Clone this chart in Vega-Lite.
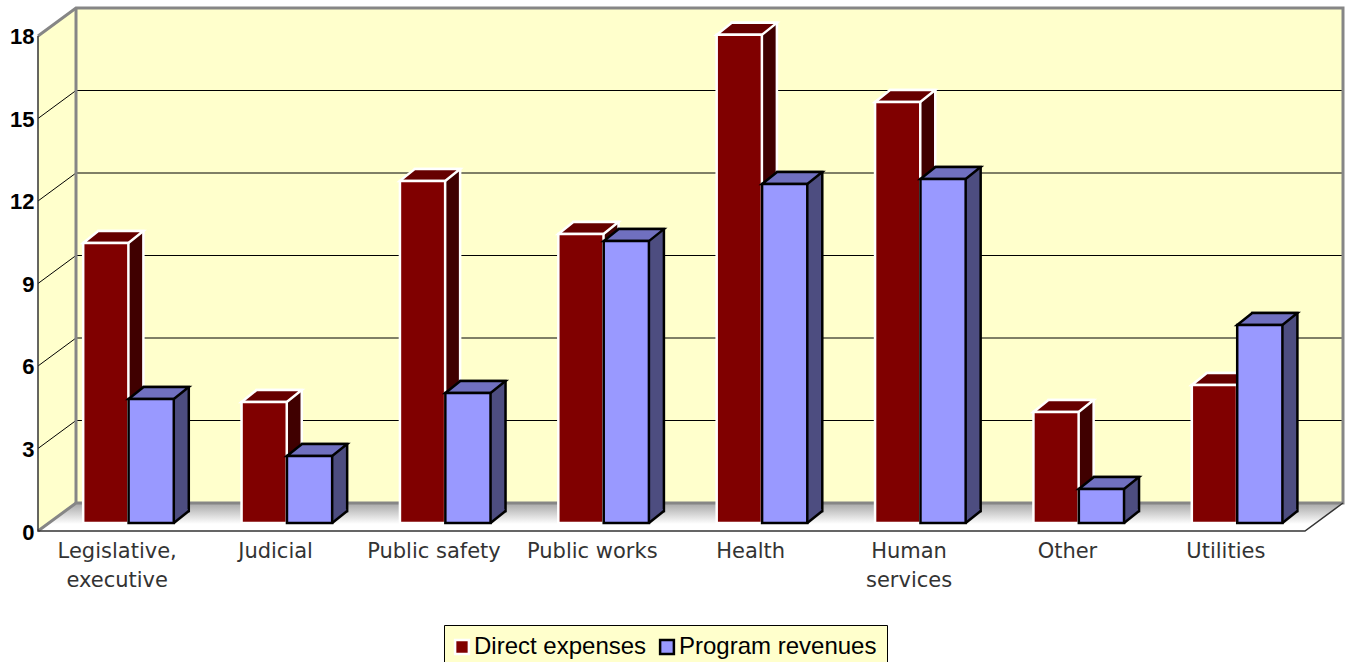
{
"$schema":"https://vega.github.io/schema/vega-lite/v6.json",
"width":1305,"height":523,
"autosize":{"type":"none"},
"padding":{"left":38,"top":8,"right":10,"bottom":131},
"background":"white",
"datasets":{
"bars":[
{"category":"Legislative, executive","series":"Direct expenses","value":10.18},
{"category":"Judicial","series":"Direct expenses","value":4.40},
{"category":"Public safety","series":"Direct expenses","value":12.44},
{"category":"Public works","series":"Direct expenses","value":10.51},
{"category":"Health","series":"Direct expenses","value":17.75},
{"category":"Human services","series":"Direct expenses","value":15.31},
{"category":"Other","series":"Direct expenses","value":4.04},
{"category":"Utilities","series":"Direct expenses","value":5.02},
{"category":"Legislative, executive","series":"Program revenues","value":4.51},
{"category":"Judicial","series":"Program revenues","value":2.44},
{"category":"Public safety","series":"Program revenues","value":4.73},
{"category":"Public works","series":"Program revenues","value":10.25},
{"category":"Health","series":"Program revenues","value":12.33},
{"category":"Human services","series":"Program revenues","value":12.51},
{"category":"Other","series":"Program revenues","value":1.24},
{"category":"Utilities","series":"Program revenues","value":7.2}
]},
"resolve":{"scale":{"x":"independent"},"axis":{"x":"independent"}},
"config":{"view":{"stroke":null}},
"layer":[
{"data":{"values":[{"x":0,"y":0,"y2":18},{"x":0.24,"y":1.018,"y2":19.018},{"x":8.24,"y":1.018,"y2":19.018}]},
 "mark":{"type":"area","fill":"#FFFFCC"},
 "encoding":{
  "x":{"field":"x","type":"quantitative","axis":null,"scale":{"domain":[0,8.24],"range":[0,1305],"nice":false,"zero":false}},
  "y":{"field":"y","type":"quantitative","stack":null,"scale":{"domain":[0,19.018],"nice":false},
    "axis":{"values":[0,3,6,9,12,15,18],"title":null,"grid":false,"domain":false,"ticks":false,"labelFont":"Liberation Sans","labelFontWeight":"bold","labelFontSize":22,"labelColor":"black","labelPadding":4,"labelOffset":1}},
  "y2":{"field":"y2"}}},
{"data":{"values":[{"x":0,"x2":8,"y":0},{"x":0.24,"x2":8.24,"y":1.018}]},
 "mark":{"type":"area","orient":"horizontal","fill":{"gradient":"linear","x1":0,"y1":0,"x2":0,"y2":1,"stops":[{"offset":0,"color":"#A6A6A6"},{"offset":0.75,"color":"#FFFFFF"},{"offset":1,"color":"#FFFFFF"}]}},
 "encoding":{
  "x":{"field":"x","type":"quantitative","axis":null,"scale":{"domain":[0,8.24],"range":[0,1305],"nice":false,"zero":false}},
  "x2":{"field":"x2"},
  "y":{"field":"y","type":"quantitative","stack":null}}},
{"data":{"values":[
 {"t":3,"i":0,"x":0,"y":3},{"t":3,"i":1,"x":0.24,"y":4.018},{"t":3,"i":2,"x":8.24,"y":4.018},
 {"t":6,"i":0,"x":0,"y":6},{"t":6,"i":1,"x":0.24,"y":7.018},{"t":6,"i":2,"x":8.24,"y":7.018},
 {"t":9,"i":0,"x":0,"y":9},{"t":9,"i":1,"x":0.24,"y":10.018},{"t":9,"i":2,"x":8.24,"y":10.018},
 {"t":12,"i":0,"x":0,"y":12},{"t":12,"i":1,"x":0.24,"y":13.018},{"t":12,"i":2,"x":8.24,"y":13.018},
 {"t":15,"i":0,"x":0,"y":15},{"t":15,"i":1,"x":0.24,"y":16.018},{"t":15,"i":2,"x":8.24,"y":16.018}]},
 "mark":{"type":"line","stroke":"#000000","strokeWidth":1},
 "encoding":{
  "x":{"field":"x","type":"quantitative","axis":null,"scale":{"domain":[0,8.24],"range":[0,1305],"nice":false,"zero":false}},
  "y":{"field":"y","type":"quantitative","stack":null},
  "detail":{"field":"t"},"order":{"field":"i"}}},
{"data":{"values":[
 {"p":1,"i":0,"x":0,"y":18},{"p":1,"i":1,"x":0.24,"y":19.018},{"p":1,"i":2,"x":8.24,"y":19.018},{"p":1,"i":3,"x":8.24,"y":1.018},{"p":1,"i":4,"x":0.24,"y":1.018},{"p":1,"i":5,"x":0,"y":0},
 {"p":2,"i":0,"x":0.24,"y":19.018},{"p":2,"i":1,"x":0.24,"y":1.018}]},
 "mark":{"type":"line","stroke":"#868686","strokeWidth":3},
 "encoding":{
  "x":{"field":"x","type":"quantitative","axis":null,"scale":{"domain":[0,8.24],"range":[0,1305],"nice":false,"zero":false}},
  "y":{"field":"y","type":"quantitative","stack":null},
  "detail":{"field":"p"},"order":{"field":"i"}}},
{"data":{"values":[{"i":0,"x":0,"y":18},{"i":1,"x":0,"y":0},{"i":2,"x":8,"y":0},{"i":3,"x":8.24,"y":1.018}]},
 "mark":{"type":"line","stroke":"#333333","strokeWidth":1.5},
 "encoding":{
  "x":{"field":"x","type":"quantitative","axis":null,"scale":{"domain":[0,8.24],"range":[0,1305],"nice":false,"zero":false}},
  "y":{"field":"y","type":"quantitative","stack":null},
  "order":{"field":"i"}}},

{"data":{"name":"bars"},"transform":[{"filter":"datum.series=='Direct expenses'"}],
 "encoding":{"x":{"field":"category","type":"nominal","sort":null,"scale":{"type":"band","range":[0,1267],"paddingInner":0,"paddingOuter":0},
     "axis":{"title":null,"domain":false,"ticks":false,"labelAngle":0,"labelFont":"DejaVu Sans","labelFontSize":21,"labelColor":"#333333","labelPadding":9,"labelLineHeight":29,"labelOverlap":false,
       "labelExpr":"datum.value=='Legislative, executive'?['Legislative,','executive']:datum.value=='Human services'?['Human','services']:datum.value"}}},
 "layer":[
 {"mark":{"type":"bar","width":45.2,"fill":"#400000","stroke":"#FFFFFF","strokeWidth":2.5,"xOffset":3.6,"yOffset":-20,"y2Offset":-20},
  "encoding":{
   "y":{"field":"value","type":"quantitative","stack":null},"y2":{"datum":0}}},
 {"mark":{"type":"point","filled":true,"opacity":1,"size":4,"fill":"#400000","strokeWidth":0,"yOffset":-8,"xOffset":-11.4,"shape":"M20.6,0L22.6,0L36.6,-11L36.6,-14L20.6,-14Z"},
  "encoding":{
   "y":{"datum":0,"type":"quantitative"}}},
 {"mark":{"type":"point","filled":false,"opacity":1,"size":4,"stroke":"#FFFFFF","strokeWidth":2.5,"yOffset":-8,"xOffset":-11.4,"shape":"M22.6,0L37.6,-12"},
  "encoding":{
   "y":{"datum":0,"type":"quantitative"}}},
 {"mark":{"type":"point","filled":true,"opacity":1,"size":4,"fill":"#660000","stroke":"#FFFFFF","strokeWidth":2.5,"yOffset":-8,"xOffset":-11.4,"shape":"M-22.6,0L-7.6,-12L37.6,-12L22.6,0Z"},
  "encoding":{
   "y":{"field":"value","type":"quantitative","stack":null}}},
 {"mark":{"type":"bar","width":45.2,"strokeWidth":2.5,"xOffset":-11.4,"yOffset":-8,"y2Offset":-8},
  "encoding":{
   "y":{"field":"value","type":"quantitative","stack":null},"y2":{"datum":0},
   "fill":{"field":"series","type":"nominal","scale":{"domain":["Direct expenses","Program revenues"],"range":["#800000","#9999FF"]},
     "legend":{"title":null,"orient":"none","legendX":406,"legendY":617,"direction":"horizontal","columns":2,"fillColor":"#FFFFCC","strokeColor":"#000000","padding":10,"symbolType":"square","symbolSize":190,"symbolOffset":-4,"symbolOpacity":1,"symbolStrokeWidth":2.5,"labelFont":"Liberation Sans","labelFontSize":24,"labelColor":"#000000","labelOffset":0,"columnPadding":8,"labelLimit":300}},
   "stroke":{"field":"series","type":"nominal","scale":{"domain":["Direct expenses","Program revenues"],"range":["#FFFFFF","#000000"]},"legend":{"title":null,"orient":"none","legendX":406,"legendY":617,"direction":"horizontal","columns":2,"fillColor":"#FFFFCC","strokeColor":"#000000","padding":10,"symbolType":"square","symbolSize":190,"symbolOffset":-4,"symbolOpacity":1,"symbolStrokeWidth":2.5,"labelFont":"Liberation Sans","labelFontSize":24,"labelColor":"#000000","labelOffset":0,"columnPadding":8,"labelLimit":300}}}}
 ]},
{"data":{"name":"bars"},"transform":[{"filter":"datum.series=='Program revenues'"}],
 "layer":[
 {"mark":{"type":"bar","width":45.2,"fill":"#4D4D80","stroke":"#000000","strokeWidth":2.5,"xOffset":49,"yOffset":-20,"y2Offset":-20},
  "encoding":{"x":{"field":"category","type":"nominal","sort":null,"axis":null,"scale":{"type":"band","range":[0,1267],"paddingInner":0,"paddingOuter":0}},
   "y":{"field":"value","type":"quantitative","stack":null},"y2":{"datum":0}}},
 {"mark":{"type":"point","filled":true,"opacity":1,"size":4,"fill":"#4D4D80","strokeWidth":0,"yOffset":-8,"xOffset":34,"shape":"M20.6,0L22.6,0L36.6,-11L36.6,-14L20.6,-14Z"},
  "encoding":{"x":{"field":"category","type":"nominal","sort":null,"axis":null,"scale":{"type":"band","range":[0,1267],"paddingInner":0,"paddingOuter":0}},
   "y":{"datum":0,"type":"quantitative"}}},
 {"mark":{"type":"point","filled":false,"opacity":1,"size":4,"stroke":"#000000","strokeWidth":2.5,"yOffset":-8,"xOffset":34,"shape":"M22.6,0L37.6,-12"},
  "encoding":{"x":{"field":"category","type":"nominal","sort":null,"axis":null,"scale":{"type":"band","range":[0,1267],"paddingInner":0,"paddingOuter":0}},
   "y":{"datum":0,"type":"quantitative"}}},
 {"mark":{"type":"point","filled":true,"opacity":1,"size":4,"fill":"#7070C0","stroke":"#000000","strokeWidth":2.5,"yOffset":-8,"xOffset":34,"shape":"M-22.6,0L-7.6,-12L37.6,-12L22.6,0Z"},
  "encoding":{"x":{"field":"category","type":"nominal","sort":null,"axis":null,"scale":{"type":"band","range":[0,1267],"paddingInner":0,"paddingOuter":0}},
   "y":{"field":"value","type":"quantitative","stack":null}}},
 {"mark":{"type":"bar","width":45.2,"strokeWidth":2.5,"xOffset":34,"yOffset":-8,"y2Offset":-8},
  "encoding":{"x":{"field":"category","type":"nominal","sort":null,"axis":null,"scale":{"type":"band","range":[0,1267],"paddingInner":0,"paddingOuter":0}},
   "y":{"field":"value","type":"quantitative","stack":null},"y2":{"datum":0},
   "fill":{"field":"series","type":"nominal","scale":{"domain":["Direct expenses","Program revenues"],"range":["#800000","#9999FF"]}},
   "stroke":{"field":"series","type":"nominal","scale":{"domain":["Direct expenses","Program revenues"],"range":["#FFFFFF","#000000"]}}}}
 ]}
]}
